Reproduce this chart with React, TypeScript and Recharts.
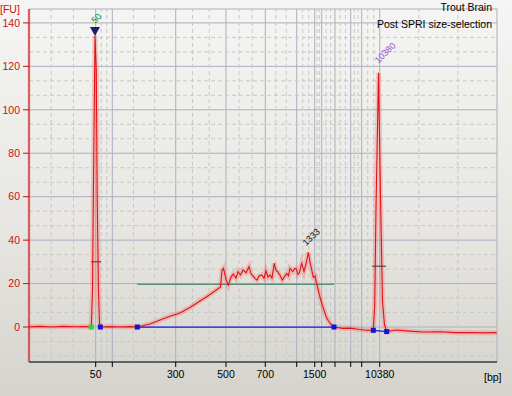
import React from 'react';
import {
  ComposedChart,
  Line,
  Scatter,
  XAxis,
  YAxis,
  CartesianGrid,
  ReferenceLine,
} from 'recharts';

// ladder sizes and their migration positions (arbitrary time units, 0..100)
const ladderBp = [50, 100, 300, 500, 700, 1000, 1500, 2000, 3000, 5000, 7000, 10380];
const ladderTime = [14.25, 17.8, 31.35, 42.09, 50.49, 57.2, 61.05, 62.54, 65.38, 68.74, 71.09, 74.94];
const labelledBp = [50, 300, 500, 700, 1500, 10380];
const fuTicks = [0, 20, 40, 60, 80, 100, 120, 140];

// electropherogram trace: [time, FU]
const trace: [number, number][] = [
  [0, 0.1], [2.35, 0.3], [4.91, 0], [7.26, 0.3], [9.83, 0.1], [12.18, 0.2],
  [13.31, 0], [13.57, 17], [13.74, 58], [14.1, 134], [14.38, 118], [14.57, 60],
  [14.85, 16], [15.06, 2], [15.24, 0], [17.31, 0.2], [19.44, 0], [21.58, 0.2],
  [23.14, 0], [25.85, 1.4], [27.99, 3.2], [30.13, 5], [32.26, 6.5], [34.4, 9],
  [36.54, 12], [38.68, 15], [40.38, 17.6], [40.92, 18.4], [41.24, 26], [41.56, 27],
  [42.09, 22], [42.58, 19.3], [43.16, 23], [43.65, 24.4], [44.23, 22.5], [44.66, 25.5],
  [45.19, 24], [45.73, 26.3], [46.37, 25], [47.01, 27.8], [47.44, 24.5], [47.86, 23.5],
  [48.29, 22.4], [48.72, 21.6], [49.15, 23.5], [49.72, 24], [50.21, 22.5], [50.64, 25.9],
  [51.07, 23], [51.5, 24], [51.92, 22.5], [52.41, 29.3], [52.78, 26], [53.14, 25.5],
  [53.63, 23.8], [54.12, 21.6], [54.59, 23.2], [55.06, 24.7], [55.45, 23.5], [55.77, 27],
  [56.35, 25.5], [56.73, 26.8], [57.05, 27], [57.48, 24.2], [57.76, 25], [58.27, 29.3],
  [58.76, 25.5], [59.29, 30], [59.68, 34.4], [60.04, 30], [60.26, 27.8], [60.75, 22.9],
  [61.11, 23.5], [61.47, 20.1], [61.86, 16.5], [62.18, 13.7], [62.61, 10.5], [63.03, 7.8],
  [63.46, 5], [63.95, 2.9], [64.53, 1.2], [65.17, 0], [67.03, -0.6], [68.59, -0.5],
  [70.3, -1], [72.01, -1.5], [73.57, -1.5], [73.87, 10], [74.15, 55], [74.68, 117],
  [75.11, 60], [75.53, 12], [75.96, 1], [76.43, -2.1], [78.42, -1.4], [81.41, -1.9],
  [84.12, -2.3], [87.82, -2.2], [91.24, -2.6], [94.23, -2.5], [97.44, -2.7], [99.94, -2.6],
];

const lowerMarkerPoint = [{ t: 13.31, fu: 0 }];
const boundaryPoints = [
  { t: 15.24, fu: 0 },
  { t: 23.14, fu: 0 },
  { t: 65.17, fu: 0 },
  { t: 73.57, fu: -1.5 },
  { t: 76.43, fu: -2.1 },
];
const baselineA = [{ t: 23.14, fu: 0 }, { t: 65.17, fu: 0 }];
const baselineB = [{ t: 73.57, fu: -1.5 }, { t: 76.43, fu: -2.1 }];
const smearLevel = [{ t: 23.14, fu: 19.7 }, { t: 65.17, fu: 19.7 }];
const halfHeights = [
  { from: 13.25, to: 15.38, fu: 30 },
  { from: 73.3, to: 76.3, fu: 28 },
];
const peakTop = [{ t: 14.1, fu: 134 }];
const peakLabels = [
  { t: 14.1, fu: 134, text: '50' },
  { t: 74.68, fu: 117, text: '10380' },
  { t: 59.68, fu: 34.4, text: '1333' },
];

const LABEL_STYLE: Record<string, { color: string; dx: number; dy: number }> = {
  '50': { color: '#119011', dx: 0, dy: -12 },
  '10380': { color: '#9a4ed6', dx: 0, dy: -9 },
  '1333': { color: '#111111', dx: -2, dy: -6 },
};

const X_DOMAIN: [number, number] = [0, 100];
const Y_DOMAIN: [number, number] = [-16.1, 146.4];
const FONT = '"Liberation Sans", Arial, sans-serif';
const RED = '#cc1010';

const traceData = trace.map(([t, fu]) => ({ t, fu }));

// minor dashed grid: thirds between major lines (and plot edges)
function thirds(edges: number[], lo: number, hi: number) {
  const out: number[] = [];
  for (let i = 0; i < edges.length - 1; i++) {
    const a = edges[i];
    const b = edges[i + 1];
    out.push(a + (b - a) / 3, a + (2 * (b - a)) / 3);
  }
  return out.filter((v) => v > lo && v < hi);
}
const minorX = thirds([X_DOMAIN[0], ...ladderTime, X_DOMAIN[1]], X_DOMAIN[0], X_DOMAIN[1]);
const minorY = thirds([-20, ...fuTicks, 160], Y_DOMAIN[0], Y_DOMAIN[1]);

const xLabel = (v: number) => {
  const bp = ladderBp[ladderTime.indexOf(v)];
  return labelledBp.includes(bp) ? String(bp) : '';
};

const Square = (color: string) => (props: any) => (
  <rect x={props.cx - 2.5} y={props.cy - 2.5} width={5} height={5} fill={color} />
);

const Triangle = (props: any) => (
  <polygon
    points={`${props.cx - 5},${props.cy - 9} ${props.cx + 5},${props.cy - 9} ${props.cx},${props.cy}`}
    fill="#1c1c6c"
  />
);

const PeakLabel = (props: any) => {
  const s = LABEL_STYLE[props.payload.text];
  const x = props.cx + s.dx;
  const y = props.cy + s.dy;
  return (
    <text
      x={x}
      y={y}
      fill={s.color}
      fontSize={9}
      fontFamily={FONT}
      transform={`rotate(-45 ${x} ${y})`}
    >
      {props.payload.text}
    </text>
  );
};

export default function App() {
  return (
    <div
      style={{
        position: 'absolute',
        left: 0,
        top: 0,
        width: 512,
        height: 396,
        background: 'linear-gradient(180deg, #f5f5f3 0%, #e8e7e3 55%, #d5d3cc 100%)',
        fontFamily: FONT,
      }}
    >
      <ComposedChart
        width={512}
        height={396}
        margin={{ top: 9, right: 15, bottom: 0, left: 0 }}
      >
        <CartesianGrid stroke="#a9b1bf" />
        {minorX.map((v) => (
          <ReferenceLine key={`mx${v}`} x={v} stroke="#c8c8c8" strokeDasharray="4 3" />
        ))}
        {minorY.map((v) => (
          <ReferenceLine key={`my${v}`} y={v} stroke="#c8c8c8" strokeDasharray="4 3" />
        ))}
        <XAxis
          type="number"
          dataKey="t"
          domain={X_DOMAIN}
          ticks={ladderTime}
          interval={0}
          allowDataOverflow
          tickFormatter={xLabel}
          height={34}
          tickSize={5}
          tickMargin={4}
          stroke="#000"
          tick={{ fill: '#000', fontSize: 10.5, fontFamily: FONT }}
        />
        <YAxis
          type="number"
          dataKey="fu"
          domain={Y_DOMAIN}
          ticks={fuTicks}
          interval={0}
          allowDataOverflow
          width={29}
          tickSize={6}
          tickMargin={3}
          stroke={RED}
          tick={{ fill: RED, fontSize: 10.5, fontFamily: FONT }}
        />
        <ReferenceLine x={X_DOMAIN[0]} stroke="rgba(255,90,90,0.25)" strokeWidth={3} />
        <Line
          data={traceData}
          dataKey="fu"
          type="linear"
          stroke="rgba(255,90,90,0.28)"
          strokeWidth={5}
          dot={false}
          isAnimationActive={false}
        />
        <Line
          data={smearLevel}
          dataKey="fu"
          type="linear"
          stroke="#2c7a5c"
          strokeWidth={1.2}
          dot={false}
          isAnimationActive={false}
        />
        <Line
          data={traceData}
          dataKey="fu"
          type="linear"
          stroke="#e01414"
          strokeWidth={1.1}
          dot={false}
          isAnimationActive={false}
        />
        <Line
          data={baselineA}
          dataKey="fu"
          type="linear"
          stroke="#1a1ae0"
          strokeWidth={1.3}
          dot={false}
          isAnimationActive={false}
        />
        <Line
          data={baselineB}
          dataKey="fu"
          type="linear"
          stroke="#1a1ae0"
          strokeWidth={1.3}
          dot={false}
          isAnimationActive={false}
        />
        {halfHeights.map((h) => (
          <ReferenceLine
            key={`hh${h.from}`}
            segment={[{ x: h.from, y: h.fu }, { x: h.to, y: h.fu }]}
            stroke="#3a3a2a"
            strokeWidth={1}
          />
        ))}
        <Scatter data={lowerMarkerPoint} dataKey="fu" shape={Square('#22dd22')} isAnimationActive={false} />
        <Scatter data={boundaryPoints} dataKey="fu" shape={Square('#1414d4')} isAnimationActive={false} />
        <Scatter data={peakTop} dataKey="fu" shape={Triangle} isAnimationActive={false} />
        <Scatter data={peakLabels} dataKey="fu" shape={PeakLabel} isAnimationActive={false} />
      </ComposedChart>
      <svg
        width={512}
        height={396}
        style={{ position: 'absolute', left: 0, top: 0, pointerEvents: 'none' }}
      >
        <text x={0} y={12.5} fill={RED} fontSize={10.5} fontFamily={FONT}>[FU]</text>
        <text x={484} y={381} fill="#000" fontSize={10.5} fontFamily={FONT}>[bp]</text>
        <text x={492} y={11} fill="#000" fontSize={10.5} fontFamily={FONT} textAnchor="end">
          Trout Brain
        </text>
        <text x={492} y={28} fill="#000" fontSize={10.5} fontFamily={FONT} textAnchor="end">
          Post SPRI size-selection
        </text>
      </svg>
    </div>
  );
}
